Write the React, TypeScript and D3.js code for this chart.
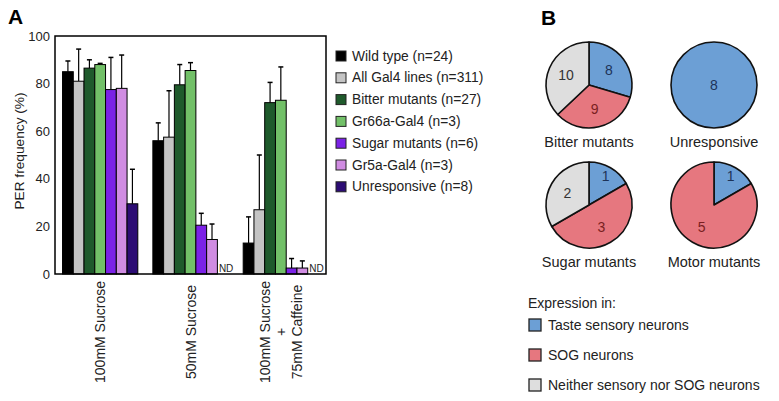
import React from "react";
import * as d3 from "d3";

const groups = ["100mM Sucrose", "50mM Sucrose", "100mM Sucrose + 75mM Caffeine"];
const groupLabelLines = [["100mM Sucrose"], ["50mM Sucrose"], ["100mM Sucrose", "+", "75mM Caffeine"]];
const seriesNames = [
  "Wild type (n=24)",
  "All Gal4 lines (n=311)",
  "Bitter mutants (n=27)",
  "Gr66a-Gal4 (n=3)",
  "Sugar mutants (n=6)",
  "Gr5a-Gal4 (n=3)",
  "Unresponsive (n=8)",
];
const seriesColors = ["#000000", "#c4c4c4", "#1f5a2c", "#72c068", "#7b22e6", "#d08ce2", "#2c0c74"];
// null = not determined (ND)
const meanValues: (number | null)[][] = [
  [85, 81, 86.5, 88, 77.5, 78, 29.5],
  [56, 57.5, 79.5, 85.5, 20.5, 14.5, null],
  [13, 27, 72, 73, 2.5, 2.5, null],
];
const errorValues: (number | null)[][] = [
  [4.5, 13.5, 3.5, 0.5, 13.5, 14, 14.5],
  [7.5, 19.5, 8.5, 3.3, 5, 6.5, null],
  [11, 23, 8.5, 14, 4, 3, null],
];
const yTicks = [0, 20, 40, 60, 80, 100];

const pieNames = ["Bitter mutants", "Unresponsive", "Sugar mutants", "Motor mutants"];
const tasteCounts = [8, 8, 1, 1];
const sogCounts = [9, 0, 3, 5];
const neitherCounts = [10, 0, 2, 0];
const pieCategories = ["Taste sensory neurons", "SOG neurons", "Neither sensory nor SOG neurons"];
const pieColors = ["#6c9fd5", "#e6777f", "#dedede"];
const pieTextColors = ["#1d3358", "#7a1f22", "#333333"];

const FONT = "'Liberation Sans', Arial, Helvetica, sans-serif";

export default function App() {
  const plotL = 55, plotR = 326, plotT = 36, plotB = 274;
  const y = d3.scaleLinear().domain([0, 100]).range([plotB, plotT]);
  const x0 = d3.scaleBand<string>().domain(groups).range([plotL, plotR]).paddingInner(1 / 6).paddingOuter(1 / 12);
  const x1 = d3.scaleBand<number>().domain(d3.range(seriesNames.length)).range([0, x0.bandwidth()]);

  const pieCenters = [
    [589, 85],
    [714, 85],
    [589, 205],
    [714, 205],
  ];
  const R = 43;
  const pieGen = d3.pie<number>().sort(null).value((d) => d);
  const arcGen = d3.arc<d3.PieArcDatum<number>>().innerRadius(0).outerRadius(R);

  return (
    <svg width={779} height={401} style={{ position: "absolute", left: 0, top: 0, background: "#fff" }} fontFamily={FONT}>
      <text x={8} y={24} fontSize={21} fontWeight="bold">A</text>
      <text x={541} y={25} fontSize={21} fontWeight="bold">B</text>

      {/* y axis labels */}
      {yTicks.map((t) => (
        <text key={t} x={50} y={y(t)} fontSize={13} textAnchor="end" dominantBaseline="central" fill="#222">{t}</text>
      ))}
      <text transform={`translate(19,${(plotT + plotB) / 2 - 4}) rotate(-90)`} fontSize={13.7} textAnchor="middle" dominantBaseline="central" fill="#222">PER frequency (%)</text>

      {/* bars */}
      {groups.map((g, gi) => (
        <g key={g} transform={`translate(${x0(g)},0)`}>
          {seriesNames.map((s, si) => {
            const v = meanValues[gi][si];
            const bx = x1(si)!;
            const bw = x1.bandwidth();
            if (v === null) {
              return (
                <text key={s} x={bx + 1.5} y={plotB - 2} fontSize={10} fill="#222">ND</text>
              );
            }
            const e = errorValues[gi][si] ?? 0;
            const cx = bx + bw / 2;
            return (
              <g key={s}>
                <line x1={cx} x2={cx} y1={y(v)} y2={y(v + e)} stroke="#000" strokeWidth={1.2} />
                <line x1={cx - 2.5} x2={cx + 2.5} y1={y(v + e)} y2={y(v + e)} stroke="#000" strokeWidth={1.5} />
                <rect x={bx} y={y(v)} width={bw} height={plotB - y(v)} fill={seriesColors[si]} stroke="#000" strokeWidth={1} />
              </g>
            );
          })}
        </g>
      ))}
      <rect x={plotL} y={plotT} width={plotR - plotL} height={plotB - plotT} fill="none" stroke="#000" strokeWidth={1.5} />

      {/* x labels */}
      {groups.map((g, gi) => {
        const lines = groupLabelLines[gi];
        const cx = x0(g)! + x0.bandwidth() / 2;
        return lines.map((ln, li) => {
          const lx = cx + (li - (lines.length - 1) / 2) * 16;
          return (
            <text key={g + li} transform={`translate(${lx},332) rotate(-90)`} fontSize={14} textAnchor="middle" dominantBaseline="central" fill="#222">{ln}</text>
          );
        });
      })}

      {/* bar legend */}
      {seriesNames.map((s, i) => {
        const cy = 56 + i * 21.8;
        return (
          <g key={s}>
            <rect x={336} y={cy - 5} width={10} height={10} fill={seriesColors[i]} stroke="#222" strokeWidth={1} />
            <text x={352} y={cy} fontSize={13.8} dominantBaseline="central" fill="#222">{s}</text>
          </g>
        );
      })}

      {/* pies */}
      {pieNames.map((name, pi) => {
        const counts = [tasteCounts[pi], sogCounts[pi], neitherCounts[pi]];
        const arcs = pieGen(counts);
        const [cx, cy] = pieCenters[pi];
        const nonZero = arcs.filter((a) => a.value > 0);
        return (
          <g key={name}>
            <g transform={`translate(${cx},${cy})`}>
              {nonZero.map((a) => (
                <path key={a.index} d={arcGen(a)!} fill={pieColors[a.index]} stroke="#111" strokeWidth={1.6} strokeLinejoin="round" />
              ))}
              {nonZero.map((a) => {
                const span = a.endAngle - a.startAngle;
                const mid = (a.startAngle + a.endAngle) / 2;
                const lr = span >= 2 * Math.PI - 1e-6 ? 0 : span < Math.PI / 2 ? R * 0.78 : R * 0.58;
                return (
                  <text key={"t" + a.index} x={lr * Math.sin(mid)} y={-lr * Math.cos(mid)} fontSize={14} textAnchor="middle" dominantBaseline="central" fill={pieTextColors[a.index]}>{a.value}</text>
                );
              })}
            </g>
            <text x={cx} y={cy + R + 19} fontSize={14.5} textAnchor="middle" fill="#222">{name}</text>
          </g>
        );
      })}

      {/* pie legend */}
      <text x={528} y={303} fontSize={14} dominantBaseline="central" fill="#222">Expression in:</text>
      {pieCategories.map((c, i) => {
        const cy = 325 + i * 30;
        return (
          <g key={c}>
            <rect x={529} y={cy - 6} width={12} height={12} fill={pieColors[i]} stroke="#222" strokeWidth={1.3} />
            <text x={548} y={cy} fontSize={14} dominantBaseline="central" fill="#222">{c}</text>
          </g>
        );
      })}
    </svg>
  );
}
